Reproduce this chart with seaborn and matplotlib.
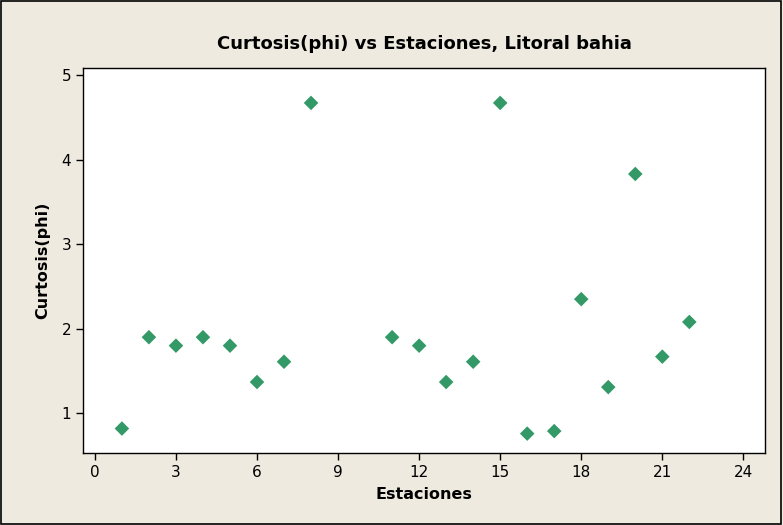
import matplotlib
matplotlib.use("Agg")
import matplotlib.pyplot as plt
import seaborn as sns
import pandas as pd
from matplotlib.patches import Rectangle

# Data
estaciones = [1, 2, 3, 4, 5, 6, 7, 8, 11, 12, 13, 14, 15, 16, 17, 18, 19, 20, 21, 22]
curtosis = [0.82, 1.90, 1.80, 1.90, 1.80, 1.37, 1.61, 4.67, 1.90, 1.80, 1.37, 1.61,
            4.67, 0.76, 0.79, 2.35, 1.31, 3.83, 1.67, 2.08]
x_ticks = [0, 3, 6, 9, 12, 15, 18, 21, 24]
y_ticks = [1, 2, 3, 4, 5]

df = pd.DataFrame({"Estaciones": estaciones, "Curtosis(phi)": curtosis})

sns.set_theme(style="ticks")
plt.rcParams["font.family"] = ["DejaVu Sans"]
plt.rcParams["text.color"] = "black"
plt.rcParams["axes.labelcolor"] = "black"

bg = "#EEEAE0"
fig = plt.figure(figsize=(7.83, 5.25), dpi=100, facecolor=bg)
ax = fig.add_axes([0.106, 0.137, 0.871, 0.733])
ax.set_facecolor("white")

sns.scatterplot(data=df, x="Estaciones", y="Curtosis(phi)", marker="D", s=55,
                color="#339966", edgecolor="none", ax=ax)

ax.set_xlim(-0.44, 24.8)
ax.set_ylim(0.53, 5.08)
ax.set_xticks(x_ticks)
ax.set_yticks(y_ticks)
ax.tick_params(direction="out", length=5, width=1, labelsize=11, colors="black")
for s in ax.spines.values():
    s.set_visible(True)
    s.set_color("black")
    s.set_linewidth(1)

ax.set_title("Curtosis(phi) vs Estaciones, Litoral bahia", fontsize=13,
             fontweight="bold", pad=14, color="black")
ax.set_xlabel("Estaciones", fontsize=11.5, fontweight="bold", labelpad=5)
ax.set_ylabel("Curtosis(phi)", fontsize=11.5, fontweight="bold", labelpad=8)

# outer frame of the figure
fig.patches.append(Rectangle((0.001, 0.001), 0.997, 0.997, transform=fig.transFigure,
                             fill=False, edgecolor="black", linewidth=1.2))

fig.savefig("out.png", dpi=100, facecolor=bg)
